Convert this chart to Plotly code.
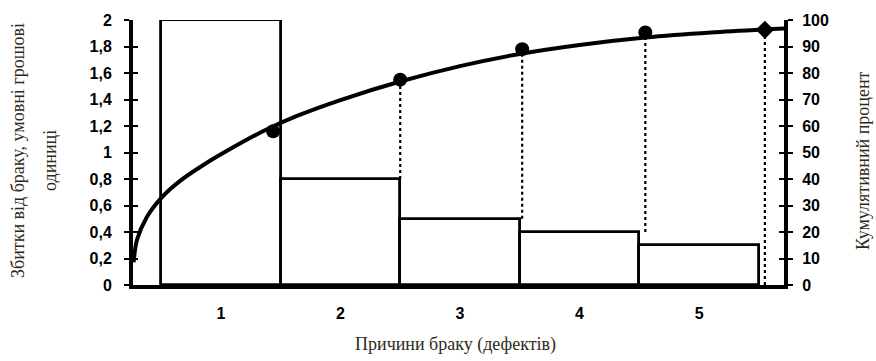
import plotly.graph_objects as go

# ---- data ----
categories = [1, 2, 3, 4, 5]
losses = [2.0, 0.8, 0.5, 0.4, 0.3]

# cumulative-percent points (markers)
cum_x = [1.437, 2.5, 3.52, 4.55, 5.55]
cum_pct = [58, 77.5, 89, 95.3, 96.3]
cum_symbols = ["circle", "circle", "circle", "circle", "diamond"]

# smooth fitted cumulative curve
curve_x = [0.27, 0.297, 0.38, 0.506, 0.659, 0.85, 1.077, 1.356, 1.636, 2.0, 2.5, 3.0, 3.5, 4.0, 4.55, 5.1, 5.71]
curve_pct = [8.6, 16.9, 25.6, 33.1, 39.3, 45.2, 51.3, 58.1, 63.8, 69.8, 76.8, 82.6, 87.2, 90.6, 93.4, 95.3, 96.8]

left_ticks = [0, 0.2, 0.4, 0.6, 0.8, 1, 1.2, 1.4, 1.6, 1.8, 2]
left_tick_text = ["0", "0,2", "0,4", "0,6", "0,8", "1", "1,2", "1,4", "1,6", "1,8", "2"]
right_ticks = [0, 10, 20, 30, 40, 50, 60, 70, 80, 90, 100]

left_title_1 = "Збитки від браку, умовні грошові"
left_title_2 = "одиниці"
right_title = "Кумулятивний процент"
x_title = "Причини браку (дефектів)"

tick_font = dict(family="Liberation Sans", size=16, color="black", weight="bold")
title_font = dict(family="Liberation Serif", size=18, color="#2e2a1a")

W, H = 876, 361
ML, MR, MT, MB = 133, 92, 18, 76

fig = go.Figure()

fig.add_trace(go.Bar(
    x=categories, y=losses, width=1,
    marker=dict(color="white", line=dict(color="black", width=2.8)),
    xaxis="x", yaxis="y", showlegend=False,
))

# dotted connectors from the top of the bar below each marker up to it
for i in range(1, len(cum_x)):
    start = losses[i] * 50 if i < len(cum_x) - 1 else 0
    fig.add_trace(go.Scatter(
        x=[cum_x[i], cum_x[i]], y=[start, cum_pct[i]],
        mode="lines", line=dict(color="black", width=2.2, dash="dot"),
        xaxis="x", yaxis="y2", showlegend=False, hoverinfo="skip",
    ))

fig.add_trace(go.Scatter(
    x=curve_x, y=curve_pct, mode="lines",
    line=dict(color="black", width=4, shape="spline", smoothing=0.8),
    xaxis="x", yaxis="y2", showlegend=False,
))

fig.add_trace(go.Scatter(
    x=cum_x, y=cum_pct, mode="markers",
    marker=dict(color="black", size=14, symbol=cum_symbols),
    xaxis="x", yaxis="y2", showlegend=False,
))

# invisible helper traces so the inner tick marks render
fig.add_trace(go.Scatter(x=[1], y=[0], mode="markers", marker=dict(opacity=0),
                         xaxis="x", yaxis="y3", showlegend=False, hoverinfo="skip"))
fig.add_trace(go.Scatter(x=[1], y=[0], mode="markers", marker=dict(opacity=0),
                         xaxis="x", yaxis="y4", showlegend=False, hoverinfo="skip"))

pw = W - ML - MR
ph = H - MT - MB


def px_to_paper(px, py):
    return (px - ML) / pw, (H - MB - py) / ph


def ann(text, px, py, angle=0):
    x, y = px_to_paper(px, py)
    return dict(text=text, x=x, y=y, xref="paper", yref="paper", showarrow=False,
                textangle=angle, font=title_font, xanchor="center", yanchor="middle")


fig.update_layout(
    width=W, height=H,
    margin=dict(l=ML, r=MR, t=MT, b=MB),
    paper_bgcolor="white", plot_bgcolor="white",
    bargap=0,
    xaxis=dict(
        range=[0.265, 5.71], tickvals=categories, ticktext=[str(c) for c in categories],
        showgrid=False, zeroline=False, showline=True, linecolor="black", linewidth=4,
        ticks="", tickfont=tick_font, ticklabelstandoff=11,
    ),
    yaxis=dict(
        range=[0, 2], tickvals=left_ticks, ticktext=left_tick_text,
        showgrid=False, zeroline=False, showline=True, linecolor="black", linewidth=4,
        ticks="outside", ticklen=5, tickwidth=2, tickcolor="black",
        tickfont=tick_font, ticklabelstandoff=9,
    ),
    yaxis2=dict(
        range=[0, 100], tickvals=right_ticks, overlaying="y", side="right",
        showgrid=False, zeroline=False, showline=True, linecolor="black", linewidth=4,
        ticks="outside", ticklen=5, tickwidth=2, tickcolor="black",
        tickfont=tick_font, ticklabelstandoff=6,
    ),
    yaxis3=dict(
        range=[0, 2], tickvals=left_ticks, overlaying="y", side="left",
        showgrid=False, zeroline=False, showline=False, showticklabels=False,
        ticks="inside", ticklen=5, tickwidth=2, tickcolor="black",
    ),
    yaxis4=dict(
        range=[0, 100], tickvals=right_ticks, overlaying="y", side="right",
        showgrid=False, zeroline=False, showline=False, showticklabels=False,
        ticks="inside", ticklen=5, tickwidth=2, tickcolor="black",
    ),
    annotations=[
        ann(left_title_1, 18, 150, -90),
        ann(left_title_2, 50, 160, -90),
        ann(right_title, 863, 160, -90),
        ann(x_title, 455, 345),
    ],
)

fig.write_html("out.html", config={"displayModeBar": False},
               post_script="document.body.style.margin='0';")
